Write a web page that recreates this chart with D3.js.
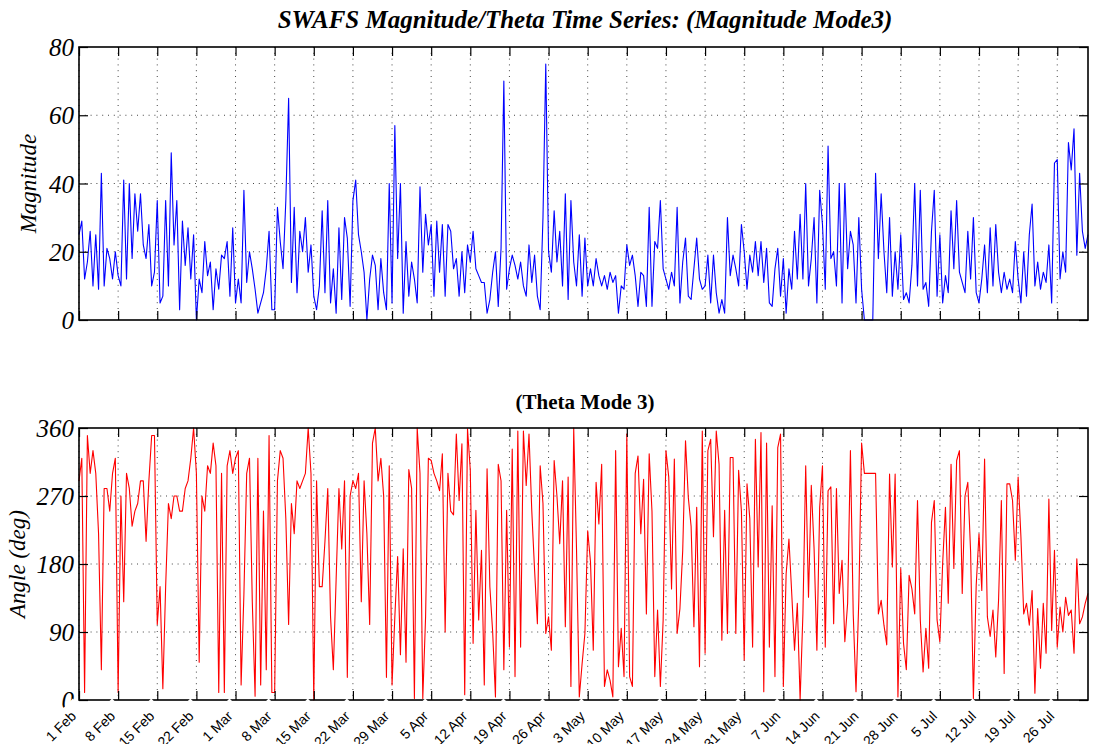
<!DOCTYPE html>
<html>
<head>
<meta charset="utf-8">
<script src="https://cdn.jsdelivr.net/npm/d3@7"></script>
<style>
  body { margin: 0; background: #fff; }
  svg { display: block; }
</style>
</head>
<body>
<div id="chart"></div>
<script>
const svgWidth = 1095;
const svgHeight = 744;

// series start and sampling step (two samples a day)
const startDate = new Date(2005, 1, 1);
const stepHours = 12;

// y ticks
const magTicks = [0, 20, 40, 60, 80];
const angleTicks = [0, 90, 180, 270, 360];

// Magnitude Mode 3, one row per week starting 1 Feb
const magnitude = [
  25, 29, 12, 17, 26, 10, 25, 9, 43, 10, 21, 18, 12, 20,
  13, 10, 41, 12, 40, 18, 37, 26, 37, 22, 18, 28, 10, 14,
  35, 5, 7, 35, 10, 49, 22, 35, 3, 29, 16, 27, 12, 25,
  0, 12, 8, 23, 13, 17, 3, 15, 9, 19, 18, 23, 7, 27,
  5, 12, 5, 38, 11, 20, 15, 9, 2, 5, 8, 15, 26, 3,
  3, 33, 23, 15, 35, 65, 11, 33, 8, 26, 20, 30, 14, 22,
  7, 3, 10, 32, 8, 35, 5, 15, 2, 27, 6, 30, 24, 4,
  35, 41, 25, 20, 14, 0, 12, 19, 16, 3, 18, 8, 3, 40,
  5, 57, 18, 40, 2, 23, 7, 17, 12, 5, 39, 14, 31, 22,
  28, 7, 29, 14, 28, 7, 28, 26, 15, 18, 7, 20, 8, 22,
  17, 26, 15, 13, 11, 11, 2, 6, 14, 20, 4, 21, 70, 9,
  15, 19, 16, 12, 17, 10, 7, 22, 11, 19, 7, 3, 30, 75,
  20, 14, 32, 17, 26, 10, 37, 6, 35, 17, 10, 25, 7, 24,
  10, 15, 10, 18, 13, 10, 13, 9, 14, 11, 13, 2, 10, 9,
  22, 16, 19, 13, 4, 14, 13, 4, 33, 4, 23, 21, 35, 15,
  12, 9, 14, 10, 33, 5, 17, 24, 7, 6, 15, 24, 12, 9,
  10, 19, 5, 19, 8, 2, 6, 2, 30, 13, 19, 15, 10, 28,
  20, 9, 19, 14, 23, 13, 23, 11, 21, 5, 4, 15, 21, 7,
  18, 2, 15, 9, 26, 12, 31, 12, 40, 10, 18, 30, 5, 38,
  28, 9, 51, 18, 20, 10, 40, 5, 40, 15, 26, 22, 5, 30,
  9, 0, 0, 0, 0, 43, 18, 37, 20, 8, 30, 7, 20, 9,
  25, 6, 8, 5, 16, 40, 10, 38, 9, 11, 4, 26, 38, 7,
  25, 5, 13, 8, 32, 15, 35, 14, 11, 8, 26, 12, 30, 8,
  5, 12, 22, 8, 27, 10, 28, 14, 8, 14, 9, 12, 8, 23,
  12, 5, 20, 7, 25, 34, 10, 17, 9, 14, 11, 22, 5, 46,
  47, 12, 20, 14, 52, 44, 56, 19, 43, 26, 21, 25
];

// Theta Mode 3 (deg), same time steps
const theta = [
  290, 320, 10, 350, 300, 330, 300, 220, 40, 280, 280, 250, 300, 320,
  10, 270, 130, 300, 280, 230, 250, 260, 290, 290, 210, 290, 350, 350,
  100, 150, 15, 150, 260, 240, 270, 270, 250, 250, 280, 290, 320, 360,
  300, 50, 270, 250, 310, 300, 340, 310, 10, 300, 10, 310, 330, 300,
  320, 330, 20, 140, 300, 320, 130, 5, 320, 20, 250, 40, 350, 10,
  10, 290, 330, 320, 240, 100, 260, 220, 290, 280, 290, 300, 360, 300,
  0, 290, 150, 150, 210, 280, 110, 40, 160, 280, 200, 290, 30, 270,
  290, 280, 300, 130, 290, 220, 100, 340, 360, 290, 320, 270, 30, 310,
  20, 110, 190, 60, 200, 50, 305, 280, 2, 360, 300, 2, 110, 320,
  317, 300, 290, 277, 326, 90, 300, 250, 245, 352, 264, 339, 7, 359,
  304, 75, 251, 106, 198, 20, 306, 150, 90, 4, 312, 290, 40, 251,
  70, 332, 31, 356, 70, 356, 284, 352, 250, 172, 101, 310, 260, 88,
  110, 66, 317, 270, 207, 290, 97, 295, 18, 360, 200, 4, 48, 88,
  224, 183, 66, 288, 233, 312, 18, 40, 26, 4, 330, 44, 95, 31,
  352, 31, 18, 300, 323, 220, 292, 114, 326, 250, 31, 119, 18, 106,
  330, 295, 147, 319, 88, 121, 198, 343, 268, 230, 97, 255, 44, 356,
  62, 330, 345, 216, 356, 312, 79, 251, 88, 321, 321, 88, 304, 250,
  53, 286, 240, 70, 345, 176, 354, 11, 340, 70, 257, 31, 334, 352,
  18, 167, 213, 141, 66, 128, 0, 114, 310, 136, 284, 200, 66, 255,
  310, 70, 277, 282, 101, 280, 141, 185, 77, 128, 330, 114, 11, 132,
  340, 300, 300, 300, 300, 300, 114, 132, 99, 73, 299, 176, 299, 4,
  174, 75, 40, 165, 147, 114, 264, 106, 37, 95, 42, 235, 264, 106,
  77, 181, 255, 128, 312, 174, 317, 330, 141, 270, 288, 196, 2, 152,
  220, 145, 319, 110, 84, 119, 57, 132, 264, 35, 286, 286, 264, 185,
  295, 216, 114, 128, 99, 145, 9, 121, 42, 128, 62, 266, 92, 198,
  70, 123, 90, 136, 112, 119, 62, 187, 101, 110, 128, 141
];

const plotLeft = 79;
const plotRight = 1088;
const tickLen = 9;
const serif = "'Liberation Serif', 'Times New Roman', serif";
const sans = "'Liberation Sans', Arial, sans-serif";

const timeAt = i => d3.timeHour.offset(startDate, i * stepHours);
const endDate = timeAt(magnitude.length - 1);

const x = d3.scaleTime()
  .domain([startDate, endDate])
  .range([plotLeft, plotRight]);

// weekly ticks: 1 Feb, 8 Feb, ...
const weeks = d3.timeDay.range(startDate, endDate, 7);
const fmt = d3.timeFormat("%-d %b");

const svg = d3.select("#chart")
  .append("svg")
  .attr("width", svgWidth)
  .attr("height", svgHeight);

svg.append("rect")
  .attr("width", svgWidth)
  .attr("height", svgHeight)
  .attr("fill", "#fff");

function drawPanel(top, bottom, yMax, yTicks, values, color) {
  const y = d3.scaleLinear()
    .domain([0, yMax])
    .range([bottom, top]);

  const g = svg.append("g");

  // dotted grid
  g.selectAll(".vgrid")
    .data(weeks)
    .enter()
    .append("line")
    .attr("x1", d => x(d))
    .attr("x2", d => x(d))
    .attr("y1", top)
    .attr("y2", bottom)
    .attr("stroke", "#444")
    .attr("stroke-width", 1)
    .attr("stroke-dasharray", "1,4.8");

  g.selectAll(".hgrid")
    .data(yTicks.slice(1, -1))
    .enter()
    .append("line")
    .attr("x1", plotLeft)
    .attr("x2", plotRight)
    .attr("y1", d => y(d))
    .attr("y2", d => y(d))
    .attr("stroke", "#444")
    .attr("stroke-width", 1)
    .attr("stroke-dasharray", "1,4.8");

  // series line
  const line = d3.line()
    .x((d, i) => x(timeAt(i)))
    .y(d => y(d));

  g.append("path")
    .datum(values)
    .attr("d", line)
    .attr("fill", "none")
    .attr("stroke", color)
    .attr("stroke-width", 1.1)
    .attr("stroke-linejoin", "round");

  // inward ticks on all four sides
  const axes = [
    [d3.axisBottom(x).tickValues(weeks), `translate(0,${bottom})`],
    [d3.axisTop(x).tickValues(weeks), `translate(0,${top})`],
    [d3.axisRight(y).tickValues(yTicks), `translate(${plotRight},0)`]
  ];
  axes.forEach(([ax, tr]) => {
    const a = g.append("g")
      .attr("transform", tr)
      .call(ax.tickSize(-tickLen).tickFormat(""));
    a.select(".domain").remove();
    a.selectAll("line").attr("stroke", "#000").attr("stroke-width", 1.2);
  });

  const left = g.append("g")
    .attr("transform", `translate(${plotLeft},0)`)
    .call(d3.axisLeft(y).tickValues(yTicks).tickSize(-tickLen).tickPadding(5));
  left.select(".domain").remove();
  left.selectAll("line").attr("stroke", "#000").attr("stroke-width", 1.2);
  left.selectAll("text")
    .attr("font-family", serif)
    .attr("font-style", "italic")
    .attr("font-size", 25)
    .attr("dy", "0.34em")
    .attr("fill", "#000");

  // frame
  g.append("rect")
    .attr("x", plotLeft)
    .attr("y", top)
    .attr("width", plotRight - plotLeft)
    .attr("height", bottom - top)
    .attr("fill", "none")
    .attr("stroke", "#000")
    .attr("stroke-width", 1.6);

  return y;
}

drawPanel(47, 320, 80, magTicks, magnitude, "#0000ff");
drawPanel(428, 700, 360, angleTicks, theta, "#ff0000");

// titles
svg.append("text")
  .attr("x", 585)
  .attr("y", 28)
  .attr("text-anchor", "middle")
  .attr("font-family", serif)
  .attr("font-weight", "bold")
  .attr("font-style", "italic")
  .attr("font-size", 25)
  .text("SWAFS Magnitude/Theta Time Series: (Magnitude Mode3)");

svg.append("text")
  .attr("x", 585)
  .attr("y", 409)
  .attr("text-anchor", "middle")
  .attr("font-family", serif)
  .attr("font-weight", "bold")
  .attr("font-size", 21)
  .text("(Theta Mode 3)");

svg.append("text")
  .attr("transform", "translate(36,183.5) rotate(-90)")
  .attr("text-anchor", "middle")
  .attr("font-family", serif)
  .attr("font-style", "italic")
  .attr("font-size", 23)
  .text("Magnitude");

svg.append("text")
  .attr("transform", "translate(25,564) rotate(-90)")
  .attr("text-anchor", "middle")
  .attr("font-family", serif)
  .attr("font-style", "italic")
  .attr("font-size", 23)
  .text("Angle (deg)");

// rotated date labels under the lower panel, each on a white box
const labels = svg.append("g")
  .selectAll("g")
  .data(weeks)
  .enter()
  .append("g")
  .attr("transform", d => `translate(${x(d) - 2},717) rotate(-45)`);

labels.append("text")
  .attr("text-anchor", "end")
  .attr("font-family", sans)
  .attr("font-size", 14)
  .attr("fill", "#000")
  .text(d => fmt(d));

labels.insert("rect", "text")
  .each(function() {
    const bb = this.parentNode.querySelector("text").getBBox();
    d3.select(this)
      .attr("x", bb.x - 2)
      .attr("y", -16)
      .attr("width", bb.width + 12)
      .attr("height", 21);
  })
  .attr("fill", "#fff");
</script>
</body>
</html>
